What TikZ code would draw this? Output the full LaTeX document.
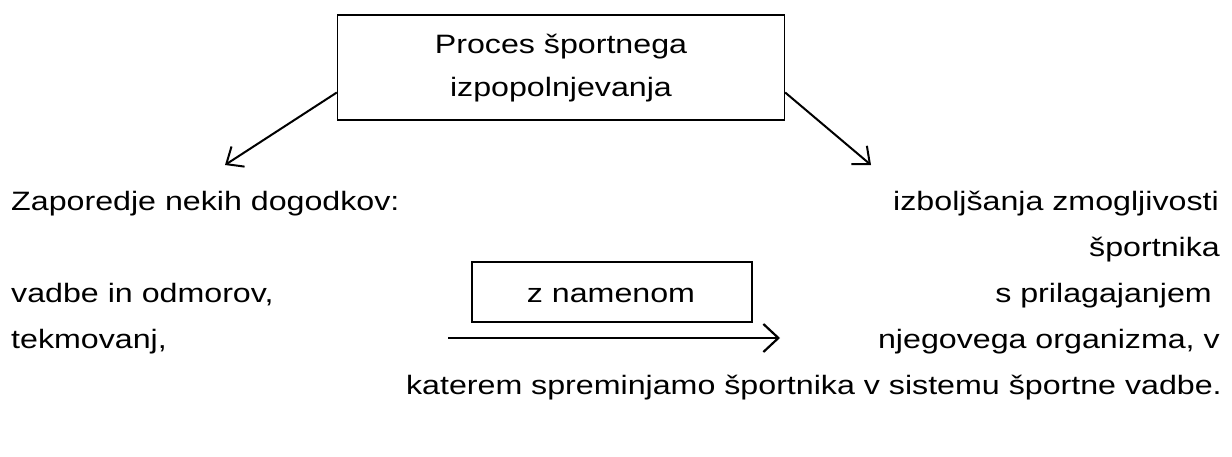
\documentclass[tikz,border=0pt]{standalone}
\usepackage{fontspec}
\setmainfont{Liberation Sans}[FakeStretch=1.21]
\usetikzlibrary{arrows.meta,calc}
\begin{document}
\begin{tikzpicture}[x=1pt,y=-1pt,
  txt/.style={inner sep=0pt,font=\fontsize{26.6}{46}\selectfont},
  boxed/.style={draw,line width=1.4pt,inner sep=0pt},
  arr/.style={line width=2pt,-{Straight Barb[length=14pt,width=24pt,line width=2pt]}},
  bigarr/.style={line width=2.8pt,-{Straight Barb[length=15pt,width=28pt,line width=2.2pt]}}]
\useasboundingbox (0,0) rectangle (1232,456);
% top box
\node[boxed,minimum width=447pt,minimum height=105pt] (proc) at (561,67.5) {};
\node[txt,anchor=base] (p1) at (561,53) {Proces športnega};
\node[txt,anchor=base] (p2) at (561,96) {izpopolnjevanja};
\coordinate (ltip) at (225,165);
\coordinate (rtip) at (871,165);
\draw[arr] ([yshift=-25pt]proc.west) -- (ltip);
\draw[arr] ([yshift=-25pt]proc.east) -- (rtip);
% left column
\node[txt,anchor=base west] (l1) at (11,210) {Zaporedje nekih dogodkov:};
\node[txt,anchor=base west] (l2) at (11,302) {vadbe in odmorov,};
\node[txt,anchor=base west] (l3) at (11,348) {tekmovanj,};
% right column
\node[txt,anchor=base east] (r1) at (1219,210) {izboljšanja zmogljivosti};
\node[txt,anchor=base east] (r2) at (1220,256) {športnika};
\node[txt,anchor=base east] (r3) at (1212,302) {s prilagajanjem};
\node[txt,anchor=base east] (r4) at (1220,348) {njegovega organizma, v};
\node[txt,anchor=base east] (r5) at (1222,394) {katerem spreminjamo športnika v sistemu športne vadbe.};
% middle box and arrow
\node[boxed,minimum width=280pt,minimum height=60pt] (nam) at (612,292) {};
\node[txt,anchor=base] (namt) at (611,302) {z namenom};
\coordinate (bstart) at (448,338);
\coordinate (bend) at (780,338);
\draw[bigarr] (bstart) -- (bend);
\end{tikzpicture}
\end{document}
